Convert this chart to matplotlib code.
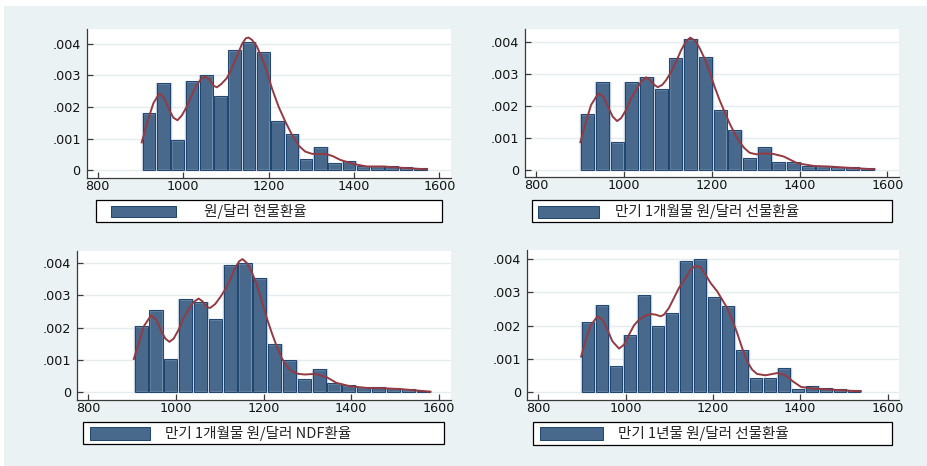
import numpy as np
import matplotlib
matplotlib.use('Agg')
import matplotlib.pyplot as plt
from matplotlib.patches import Rectangle

# ---- data (densities in units of 1e-3) ----
labels = ['원/달러 현물환율', '만기 1개월물 원/달러 선물환율',
          '만기 1개월물 원/달러 NDF환율', '만기 1년물 원/달러 선물환율']

# histogram: first bin edge, bin width, bar heights
spot_start, spot_width = 903.8, 33.4
spot_hist = [1.81, 2.74, 0.97, 2.82, 3.00, 2.34, 3.81, 4.04, 3.72, 1.55,
             1.15, 0.37, 0.73, 0.23, 0.28, 0.14, 0.14, 0.14, 0.09, 0.06]
fwd1m_start, fwd1m_width = 900.4, 33.5
fwd1m_hist = [1.76, 2.77, 0.875, 2.75, 2.91, 2.53, 3.50, 4.11, 3.55, 1.885,
              1.25, 0.375, 0.72, 0.25, 0.27, 0.146, 0.135, 0.115, 0.09, 0.06]
ndf_start, ndf_width = 903.9, 33.85
ndf_hist = [2.06, 2.56, 1.03, 2.89, 2.79, 2.26, 3.93, 4.00, 3.53, 1.48,
            1.00, 0.40, 0.72, 0.29, 0.24, 0.165, 0.155, 0.124, 0.093, 0.04]
fwd1y_start, fwd1y_width = 897.5, 32.1
fwd1y_hist = [2.11, 2.63, 0.79, 1.73, 2.91, 1.99, 2.39, 3.95, 4.00, 2.85,
              2.60, 1.26, 0.44, 0.44, 0.74, 0.10, 0.18, 0.13, 0.10, 0.06]

# kernel density curves (x, density*1e3)
spot_kx = [903.1, 918.8, 930.5, 944.5, 956.3, 967.2, 977.3, 986.7, 996.9, 1008.6,
           1020.3, 1032.0, 1043.8, 1051.6, 1060.9, 1071.1, 1078.9, 1089.1, 1102.3, 1114.1,
           1125.8, 1137.5, 1146.9, 1153.1, 1160.9, 1172.7, 1184.4, 1196.1, 1207.8, 1223.4,
           1239.1, 1254.7, 1270.3, 1285.9, 1301.6, 1317.2, 1332.8, 1350, 1367.5, 1398.8,
           1430, 1469, 1508, 1571]
spot_ky = [0.88, 1.64, 2.12, 2.43, 2.27, 1.91, 1.66, 1.58, 1.73, 2.01,
           2.38, 2.70, 2.91, 2.96, 2.88, 2.67, 2.62, 2.72, 2.91, 3.22,
           3.59, 3.98, 4.17, 4.19, 4.12, 3.91, 3.54, 3.12, 2.59, 2.01,
           1.54, 1.12, 0.78, 0.59, 0.52, 0.51, 0.52, 0.45, 0.33, 0.20,
           0.12, 0.12, 0.08, 0.03]
fwd1m_kx = [900.4, 913.3, 924.7, 941.4, 952.9, 965.0, 974.1, 984.0, 993.2, 1004.6,
            1016.0, 1027.4, 1038.8, 1050.2, 1059.3, 1069.2, 1076.8, 1086.7, 1095.8, 1107.2,
            1118.6, 1130.0, 1141.4, 1150.6, 1160.5, 1171.9, 1183.3, 1194.7, 1206.1, 1217.5,
            1228.9, 1240.3, 1251.7, 1263.1, 1274.5, 1285.9, 1301.1, 1316.3, 1341, 1364,
            1394.7, 1432.7, 1470.7, 1508.7, 1570.7]
fwd1m_ky = [0.88, 1.52, 2.04, 2.41, 2.30, 1.94, 1.68, 1.54, 1.63, 1.89,
            2.25, 2.51, 2.77, 2.91, 2.82, 2.67, 2.60, 2.67, 2.82, 3.08,
            3.40, 3.76, 4.04, 4.15, 4.07, 3.83, 3.50, 3.08, 2.62, 2.20,
            1.83, 1.47, 1.16, 0.88, 0.69, 0.55, 0.50, 0.53, 0.51, 0.43,
            0.22, 0.135, 0.115, 0.08, 0.03]
ndf_kx = [903.9, 915.3, 926.7, 943.3, 954.7, 966.9, 975.9, 985.1, 994.9, 1006.3,
          1017.7, 1029.0, 1040.4, 1051.8, 1060.9, 1070.8, 1078.3, 1089.7, 1101.1, 1112.5,
          1123.9, 1135.2, 1144.3, 1151.9, 1161.8, 1173.1, 1184.5, 1195.9, 1207.3, 1218.7,
          1230.0, 1241.4, 1252.8, 1264.2, 1279.3, 1294.5, 1317.3, 1343.7, 1366.4, 1396.7,
          1434.7, 1472.6, 1510.5, 1581]
ndf_ky = [1.03, 1.53, 2.04, 2.38, 2.25, 1.89, 1.66, 1.56, 1.66, 1.94,
          2.30, 2.56, 2.79, 2.90, 2.81, 2.63, 2.61, 2.73, 2.94, 3.18,
          3.49, 3.85, 4.05, 4.12, 4.00, 3.72, 3.33, 2.81, 2.30, 1.84,
          1.42, 1.06, 0.80, 0.65, 0.57, 0.55, 0.57, 0.47, 0.29, 0.19,
          0.134, 0.124, 0.10, 0.02]
fwd1y_kx = [898.3, 909.0, 920.4, 935.6, 947.0, 958.5, 969.9, 985.1, 996.6, 1008.0,
            1019.4, 1030.9, 1042.3, 1057.5, 1069.0, 1080.4, 1088.0, 1099.4, 1110.9, 1122.3,
            1137.5, 1149.0, 1160.4, 1171.8, 1183.2, 1194.7, 1209.9, 1221.3, 1232.8, 1244.2,
            1255.6, 1267.0, 1278.5, 1289.9, 1301.3, 1320.4, 1348.6, 1367.6, 1383, 1402,
            1432, 1470, 1508.6, 1539]
fwd1y_ky = [1.07, 1.58, 2.01, 2.28, 2.18, 1.88, 1.53, 1.31, 1.43, 1.73,
            2.01, 2.18, 2.28, 2.35, 2.33, 2.28, 2.33, 2.53, 2.83, 3.13,
            3.43, 3.68, 3.80, 3.75, 3.53, 3.28, 3.03, 2.78, 2.53, 2.18,
            1.78, 1.33, 0.93, 0.68, 0.55, 0.51, 0.58, 0.50, 0.33, 0.16,
            0.11, 0.08, 0.05, 0.03]

xticks = [800, 1000, 1200, 1400, 1600]
yticks = [0, 0.001, 0.002, 0.003, 0.004]
ytick_labels = ['0', '.001', '.002', '.003', '.004']

# ---- styling ----
W, H = 928, 466
bg_col = '#EAF2F3'
bar_col = '#48698C'
bar_edge = '#1D436E'
bar_halo = '#C3CFDC'
kde_col = '#943A42'
axis_col = '#3A3A3A'
kfont = ['Noto Sans CJK KR', 'DejaVu Sans']

fig = plt.figure(figsize=(W / 100, H / 100), dpi=100, facecolor='white')

bg = fig.add_axes([0, 0, 1, 1], zorder=-1)
bg.set_xlim(0, W)
bg.set_ylim(H, 0)
bg.axis('off')
bg.add_patch(Rectangle((4, 6), W - 4, H - 6, facecolor=bg_col, edgecolor='none'))


def panel(rect, ylim, start, width, hist, kx, ky, label, box, key, text_x):
    x0, y0, x1, y1 = rect
    ax = fig.add_axes([x0 / W, 1 - y1 / H, (x1 - x0) / W, (y1 - y0) / H])
    ax.set_facecolor('white')
    xlim = (775, 1627)
    edges = start + width * np.arange(len(hist))
    h = np.array(hist) * 1e-3
    # bars with a light halo and an inset dark outline (Stata look)
    ax.bar(edges, h, width=width, align='edge',
           facecolor=bar_col, edgecolor=bar_halo, linewidth=1.0, zorder=2)
    inset = (xlim[1] - xlim[0]) / (x1 - x0) * 0.85  # under one pixel
    ax.bar(edges + inset, h, width=width - 2 * inset, align='edge',
           facecolor='none', edgecolor=bar_edge, linewidth=0.7, zorder=2.5)
    ax.plot(kx, np.array(ky) * 1e-3, color=kde_col, lw=1.4, zorder=3)
    ax.set_xlim(*xlim)
    ax.set_ylim(*ylim)
    ax.set_xticks(xticks)
    ax.set_xticklabels([str(t) for t in xticks])
    ax.set_yticks(yticks)
    ax.set_yticklabels(ytick_labels)
    ax.yaxis.grid(True, color='#E4ECEF', lw=1.0)
    ax.set_axisbelow(True)
    for s in ['top', 'right']:
        ax.spines[s].set_visible(False)
    for s in ['left', 'bottom']:
        ax.spines[s].set_color(axis_col)
        ax.spines[s].set_linewidth(0.9)
    ax.tick_params(axis='both', direction='in', length=4, width=0.9,
                   color=axis_col, labelsize=9.2, labelcolor='#111111')
    ax.tick_params(axis='x', pad=1.5)
    ax.tick_params(axis='y', pad=4.5)

    # legend box
    bx0, by0, bx1, by1 = box
    bg.add_patch(Rectangle((bx0, by0), bx1 - bx0, by1 - by0, facecolor='white',
                           edgecolor='black', lw=0.9))
    kx0, ky0, kx1, ky1 = key
    bg.add_patch(Rectangle((kx0, ky0), kx1 - kx0, ky1 - ky0, facecolor=bar_col,
                           edgecolor=bar_edge, lw=0.7))
    bg.text(text_x, (by0 + by1) / 2 + 0.5, label, family=kfont, fontsize=10.5,
            va='center', ha='left', color='#222222')
    return ax


panel((87, 29, 451, 178), (-0.000243, 0.00446), spot_start, spot_width, spot_hist,
      spot_kx, spot_ky, labels[0], (95.7, 200, 442, 222), (111, 206, 176, 217), 204)
panel((525.3, 29, 899.3, 176.7), (-0.0002, 0.00442), fwd1m_start, fwd1m_width, fwd1m_hist,
      fwd1m_kx, fwd1m_ky, labels[1], (531.7, 200, 892, 222), (538, 205.5, 599, 218), 614.7)
panel((77.3, 251.3, 450.7, 399.7), (-0.000229, 0.00436), ndf_start, ndf_width, ndf_hist,
      ndf_kx, ndf_ky, labels[2], (82.7, 422, 444.3, 444), (90, 427.3, 150, 439.7), 165)
panel((527.3, 250.3, 899.3, 399.7), (-0.000222, 0.00426), fwd1y_start, fwd1y_width, fwd1y_hist,
      fwd1y_kx, fwd1y_ky, labels[3], (533, 422, 892.3, 444.7), (540, 427, 603.3, 439.7), 618)

fig.savefig('out.png', dpi=100, facecolor='white')
